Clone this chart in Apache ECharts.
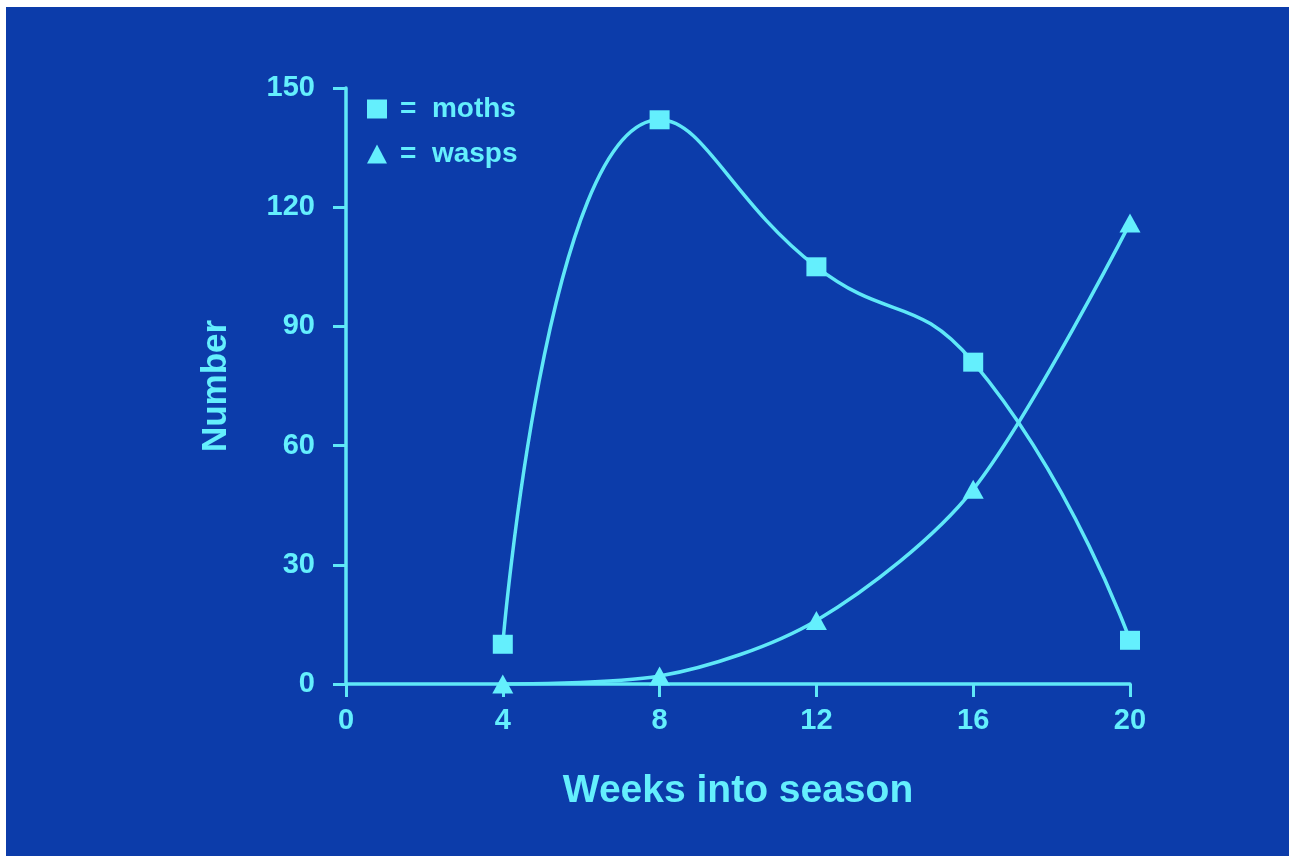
<!DOCTYPE html>
<html>
<head>
<meta charset="utf-8">
<script src="https://cdn.jsdelivr.net/npm/echarts@6/dist/echarts.min.js"></script>
<style>
  html, body { margin: 0; padding: 0; background: #ffffff; }
  #frame { position: absolute; left: 6px; top: 7px; width: 1283px; height: 849px; background: #0c3caa; }
  #chart { position: absolute; left: -6px; top: -7px; width: 1289px; height: 856px; }
</style>
</head>
<body>
<div id="frame"><div id="chart"></div></div>
<script>
const weeks = [4, 8, 12, 16, 20];
const moths = [10, 142, 105, 81, 11];
const wasps = [0, 2, 16, 49, 116];
const xTicks = [0, 4, 8, 12, 16, 20];
const yTicks = [0, 30, 60, 90, 120, 150];
const seriesNames = ['=  moths', '=  wasps'];
const xTitle = 'Weeks into season';
const yTitle = 'Number';

const cyan = '#64effd';
const lineCyan = '#5fe8f8';
const font = '"Liberation Sans", Arial, sans-serif';

const chart = echarts.init(document.getElementById('chart'), null, { renderer: 'canvas' });
chart.setOption({
  backgroundColor: 'transparent',
  animation: false,
  grid: { left: 346, right: 159, top: 88, bottom: 172, containLabel: false },
  legend: {
    orient: 'vertical',
    left: 362,
    top: 90,
    itemWidth: 20,
    itemHeight: 19,
    itemGap: 17,
    textStyle: { color: cyan, fontFamily: font, fontSize: 28, fontWeight: 'bold', padding: [0, 0, 0, 8] },
    data: [
      { name: seriesNames[0], icon: 'rect' },
      { name: seriesNames[1], icon: 'triangle' }
    ]
  },
  xAxis: {
    type: 'value',
    min: 0, max: 20, interval: 4,
    name: xTitle,
    nameLocation: 'middle',
    nameGap: 88,
    nameTextStyle: { color: cyan, fontFamily: font, fontSize: 39, fontWeight: 'bold' },
    axisLine: { show: true, onZero: false, lineStyle: { color: lineCyan, width: 3.5 } },
    axisTick: { show: true, inside: false, length: 13, lineStyle: { color: lineCyan, width: 3 } },
    axisLabel: {
      color: cyan, fontFamily: font, fontSize: 29, fontWeight: 'bold', margin: 22,
      customValues: xTicks,
      formatter: v => String(v)
    },
    splitLine: { show: false }
  },
  yAxis: {
    type: 'value',
    min: 0, max: 150, interval: 30,
    name: yTitle,
    nameLocation: 'middle',
    nameGap: 112,
    nameRotate: 90,
    nameTextStyle: { color: cyan, fontFamily: font, fontSize: 35, fontWeight: 'bold' },
    axisLine: { show: true, onZero: false, lineStyle: { color: lineCyan, width: 3.5 } },
    axisTick: { show: true, inside: false, length: 13, lineStyle: { color: lineCyan, width: 3 } },
    axisLabel: {
      color: cyan, fontFamily: font, fontSize: 29, fontWeight: 'bold', margin: 31,
      customValues: yTicks,
      formatter: v => String(v)
    },
    splitLine: { show: false }
  },
  series: [
    {
      name: seriesNames[0],
      type: 'line',
      smooth: 0.5,
      data: weeks.map((w, i) => [w, moths[i]]),
      symbol: 'rect',
      symbolSize: [20, 19],
      itemStyle: { color: cyan, borderWidth: 0 },
      lineStyle: { color: lineCyan, width: 3.5 },
      z: 3
    },
    {
      name: seriesNames[1],
      type: 'line',
      smooth: 0.3,
      data: weeks.map((w, i) => [w, wasps[i]]),
      symbol: 'triangle',
      symbolSize: [21, 19],
      itemStyle: { color: cyan, borderWidth: 0 },
      lineStyle: { color: lineCyan, width: 3.5 },
      z: 3
    }
  ]
});
</script>
</body>
</html>
